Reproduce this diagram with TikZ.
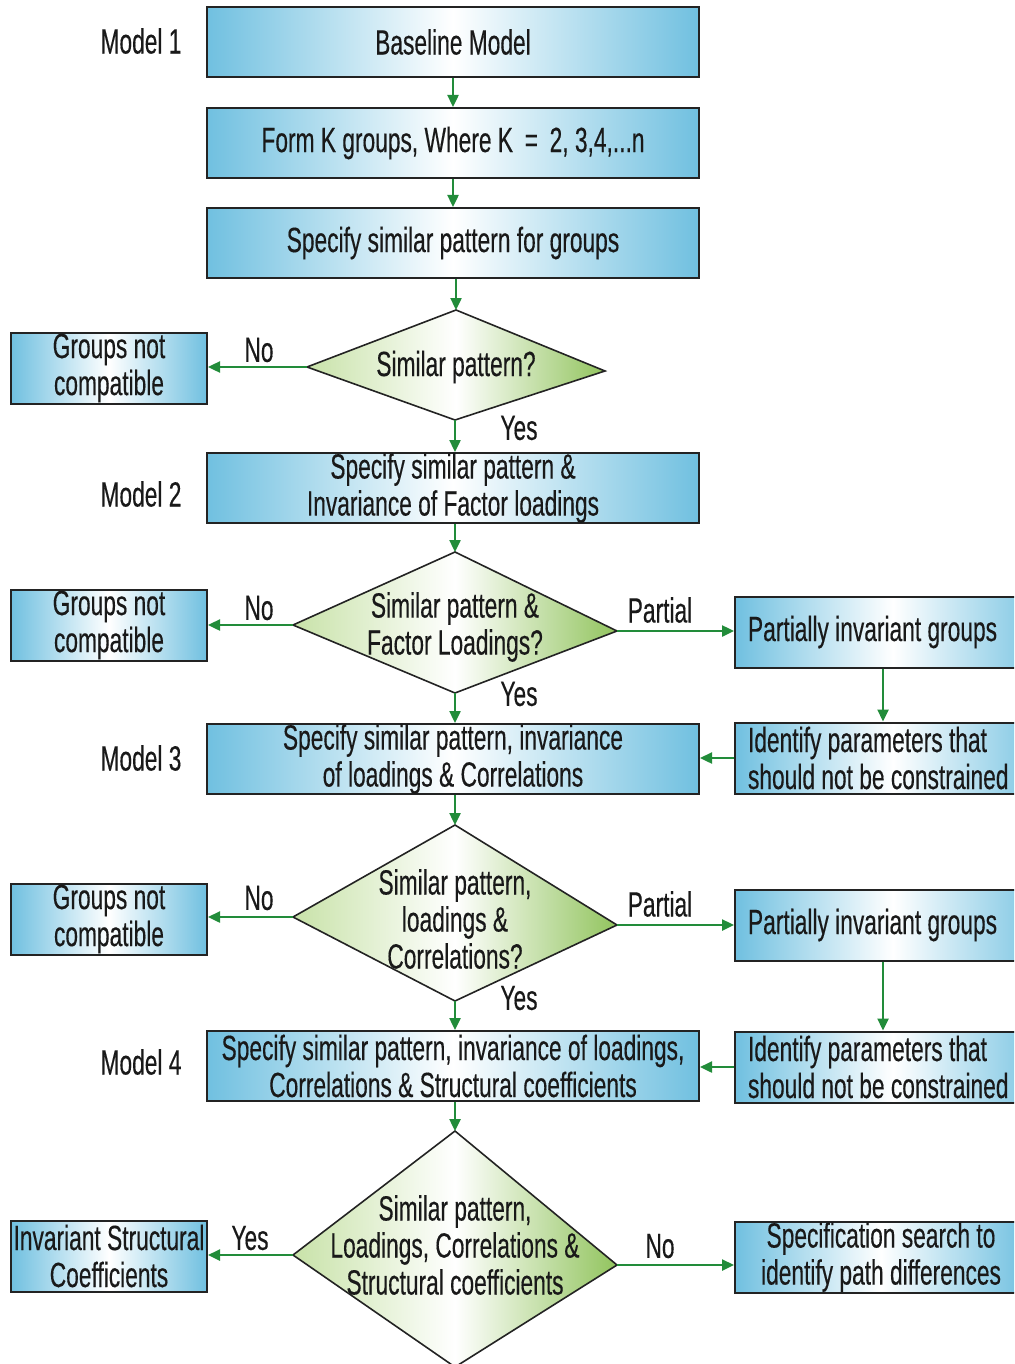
\documentclass[tikz,border=0pt]{standalone}
\usepackage{fontspec}
\setmainfont{Liberation Sans}[FakeStretch=0.65,FakeBold=0.3]
\usetikzlibrary{arrows.meta}
\definecolor{boxedge}{RGB}{112,192,224}
\definecolor{leafpale}{RGB}{200,226,168}
\definecolor{leafdeep}{RGB}{146,196,94}
\definecolor{flow}{RGB}{34,140,58}
\definecolor{frame}{RGB}{35,35,35}
\definecolor{ink}{RGB}{25,25,25}

\begin{document}
\begin{tikzpicture}[x=1pt,y=-1pt,
  every node/.style={font=\fontsize{35}{37}\selectfont, text=ink},
  stepbox/.style={draw=frame, line width=2pt, left color=boxedge, right color=boxedge,
    middle color=white, minimum width=492pt, minimum height=70pt, inner sep=0pt, align=center},
  sidebox/.style={stepbox, minimum width=196pt, minimum height=71pt},
  farbox/.style={stepbox, anchor=west, minimum width=0pt, minimum height=71pt,
    text width=290pt, inner xsep=13pt, inner ysep=0pt, align=flush left},
  choice/.style={draw=frame, line width=1.6pt, line join=miter, left color=leafpale,
    right color=leafdeep, middle color=white},
  flowarrow/.style={draw=flow, line width=2.4pt, -{Triangle[length=12pt,width=11pt]}},
  tag/.style={inner sep=0pt, align=center}
]
\useasboundingbox (0,0) rectangle (1014,1364);
\clip (0,0) rectangle (1014,1364);

% ---- decision corners ----
\coordinate (d1n) at (456,310); \coordinate (d1e) at (605,371);
\coordinate (d1s) at (455,420); \coordinate (d1w) at (307,367);
\coordinate (d2n) at (455,552); \coordinate (d2e) at (617,631);
\coordinate (d2s) at (455,693); \coordinate (d2w) at (293,625);
\coordinate (d3n) at (455,825); \coordinate (d3e) at (617,925);
\coordinate (d3s) at (455,1001); \coordinate (d3w) at (293,917);
\coordinate (d4n) at (455,1131); \coordinate (d4e) at (617,1265);
\coordinate (d4s) at (455,1367); \coordinate (d4w) at (293,1255);

% ---- decision diamonds ----
\path[choice] (d1n) -- (d1e) -- (d1s) -- (d1w) -- cycle;
\path[choice] (d2n) -- (d2e) -- (d2s) -- (d2w) -- cycle;
\path[choice] (d3n) -- (d3e) -- (d3s) -- (d3w) -- cycle;
\path[choice] (d4n) -- (d4e) -- (d4s) -- (d4w) -- cycle;
\node[tag] (d1t) at (456,367) {Similar pattern?};
\node[tag] (d2t) at (455,627) {Similar pattern \&\\Factor Loadings?};
\node[tag] (d3t) at (455,919) {Similar pattern,\\loadings \&\\Correlations?};
\node[tag] (d4t) at (455,1245) {Similar pattern,\\Loadings, Correlations \&\\Structural coefficients};

% ---- model labels ----
\node[tag] (m1) at (141,41) {Model 1};
\node[tag] (m2) at (141,494) {Model 2};
\node[tag] (m3) at (141,758) {Model 3};
\node[tag] (m4) at (141,1062) {Model 4};

% ---- main column ----
\node[stepbox] (b1) at (453,42) {Baseline Model};
\node[stepbox] (b2) at (453,143) {Form K groups, Where K\,\,=\,\,2, 3,4,...n};
\node[stepbox] (b3) at (453,243) {Specify similar pattern for groups};
\node[stepbox] (b4) at (453,488) {Specify similar pattern \&\\Invariance of Factor loadings};
\node[stepbox] (b5) at (453,759) {Specify similar pattern, invariance\\of loadings \& Correlations};
\node[stepbox] (b6) at (453,1066) {Specify similar pattern, invariance of loadings,\\Correlations \& Structural coefficients};

% ---- left column ----
\node[sidebox] (g1) at (109,368) {Groups not\\compatible};
\node[sidebox] (g2) at (109,625) {Groups not\\compatible};
\node[sidebox] (g3) at (109,919) {Groups not\\compatible};
\node[sidebox] (inv) at (109,1256) {Invariant Structural\\Coefficients};

% ---- right column ----
\node[farbox] (p1) at (734,632) {Partially invariant groups};
\node[farbox] (i1) at (734,758) {Identify parameters that\\should not be constrained};
\node[farbox] (p2) at (734,925) {Partially invariant groups};
\node[farbox] (i2) at (734,1067) {Identify parameters that\\should not be constrained};
\node[farbox, text width=266pt, align=flush center] (spec) at (734,1257) {Specification search to\\identify path differences};

% ---- branch labels ----
\node[tag] (no1) at (259,350) {No};
\node[tag] (yes1) at (519,428) {Yes};
\node[tag] (no2) at (259,608) {No};
\node[tag] (part1) at (660,610) {Partial};
\node[tag] (yes2) at (519,694) {Yes};
\node[tag] (no3) at (259,898) {No};
\node[tag] (part2) at (660,904) {Partial};
\node[tag] (yes3) at (519,998) {Yes};
\node[tag] (yes4) at (250,1238) {Yes};
\node[tag] (no4) at (660,1246) {No};

% ---- connectors ----
\draw[flowarrow] (b1) -- (b2);
\draw[flowarrow] (b2) -- (b3);
\draw[flowarrow] (b3.south -| d1n) -- (d1n);
\draw[flowarrow] (d1w) -- (d1w -| g1.east);
\draw[flowarrow] (d1s) -- (d1s |- b4.north);
\draw[flowarrow] (b4.south -| d2n) -- (d2n);
\draw[flowarrow] (d2w) -- (d2w -| g2.east);
\draw[flowarrow] (d2e) -- (d2e -| p1.west);
\draw[flowarrow] (d2s) -- (d2s |- b5.north);
\draw[flowarrow] (p1.south -| 883,0) -- (i1.north -| 883,0);
\draw[flowarrow] (i1.west) -- (i1.west -| b5.east);
\draw[flowarrow] (b5.south -| d3n) -- (d3n);
\draw[flowarrow] (d3w) -- (d3w -| g3.east);
\draw[flowarrow] (d3e) -- (d3e -| p2.west);
\draw[flowarrow] (d3s) -- (d3s |- b6.north);
\draw[flowarrow] (p2.south -| 883,0) -- (i2.north -| 883,0);
\draw[flowarrow] (i2.west) -- (i2.west -| b6.east);
\draw[flowarrow] (b6.south -| d4n) -- (d4n);
\draw[flowarrow] (d4w) -- (d4w -| inv.east);
\draw[flowarrow] (d4e) -- (d4e -| spec.west);
\end{tikzpicture}
\end{document}
